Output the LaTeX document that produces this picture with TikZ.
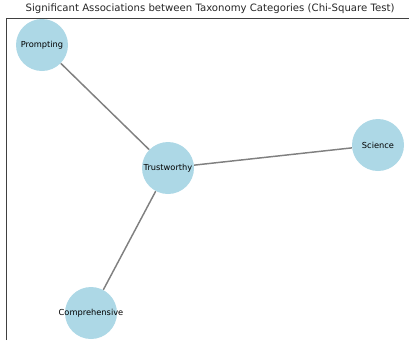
\documentclass[tikz,border=0pt]{standalone}
\usepackage{fontspec}
\setmainfont{DejaVu Sans}
\definecolor{lblue}{HTML}{ADD8E6}
\definecolor{edgegray}{HTML}{808080}
\begin{document}
\begin{tikzpicture}[x=0.75pt,y=-0.75pt,
  cat/.style={circle,fill=lblue,minimum size=39pt,inner sep=0pt,font=\fontsize{6.2}{7}\selectfont},
  link/.style={draw=edgegray,line width=1.1pt}]
\useasboundingbox (0,0) rectangle (409,340);
\draw[line width=0.6pt,black!75] (6,340) -- (6,18) -- (409,18);
\node[font=\fontsize{7.6}{9}\selectfont,text=black!85] (title) at (210,9) {Significant Associations between Taxonomy Categories (Chi-Square Test)};
\node[cat] (prompt) at (42,45) {\makebox[0pt]{Prompting}};
\node[cat] (trust) at (168,168) {\makebox[0pt]{Trustworthy}};
\node[cat] (sci) at (378,145) {\makebox[0pt]{Science}};
\node[cat] (comp) at (91,313) {\makebox[0pt]{Comprehensive}};
\draw[link] (prompt) -- (trust);
\draw[link] (trust) -- (sci);
\draw[link] (trust) -- (comp);
\end{tikzpicture}
\end{document}
